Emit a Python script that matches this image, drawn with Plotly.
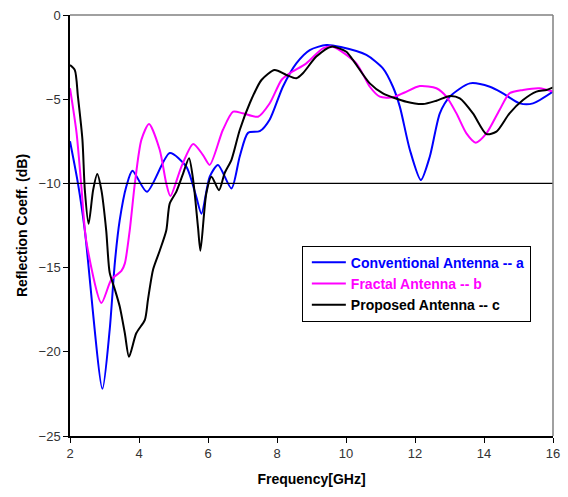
import plotly.graph_objects as go

# Conventional Antenna -- a
f_a = [2.0, 2.23, 2.43, 2.94, 3.15, 3.3, 3.44, 3.63, 3.81, 4.23, 4.89, 5.37, 5.66, 5.81,
       6.05, 6.29, 6.68, 6.92, 7.16, 7.5, 7.79, 8.17, 8.56, 8.95, 9.43, 9.85, 10.59, 11.07,
       11.36, 11.56, 11.85, 12.17, 12.43, 12.72, 13.01, 13.59, 14.17, 14.55, 15.04, 15.42, 16.0]
s_a = [-7.5, -10.0, -12.8, -22.2, -18.7, -14.7, -12.2, -10.2, -9.25, -10.5, -8.2, -9.0, -10.8, -11.8,
       -9.6, -8.9, -10.3, -8.4, -7.0, -6.9, -6.2, -4.26, -2.87, -2.08, -1.78, -1.9, -2.37, -3.17,
       -4.26, -5.44, -8.0, -9.8, -8.4, -5.84, -4.85, -4.06, -4.26, -4.65, -5.25, -5.25, -4.55]

# Fractal Antenna -- b
f_b = [2.0, 2.19, 2.33, 2.47, 2.91, 3.2, 3.49, 3.59, 3.73, 3.88, 4.07, 4.29, 4.6, 4.79, 4.91,
       5.23, 5.57, 5.85, 6.05, 6.43, 6.73, 7.01, 7.45, 7.79, 8.13, 8.37, 8.85, 9.33, 9.62,
       10.3, 10.69, 10.98, 11.36, 11.7, 12.14, 12.62, 12.91, 13.2, 13.49, 13.76, 14.07, 14.45,
       14.74, 15.13, 15.61, 16.0]
s_b = [-4.35, -7.0, -10.2, -13.4, -17.1, -15.7, -15.2, -14.75, -12.8, -10.0, -7.4, -6.47, -8.0, -10.0, -10.75,
       -9.0, -7.66, -8.3, -8.9, -6.83, -5.74, -5.84, -6.04, -5.24, -3.86, -3.46, -2.87, -1.98, -1.88,
       -2.87, -4.26, -4.85, -4.89, -4.6, -4.22, -4.35, -4.85, -5.84, -7.03, -7.58, -7.03, -5.64,
       -4.65, -4.45, -4.35, -4.55]

# Proposed Antenna -- c
f_c = [2.0, 2.14, 2.23, 2.36, 2.43, 2.54, 2.67, 2.79, 2.91, 3.05, 3.15, 3.3, 3.44, 3.59, 3.71,
       3.92, 4.17, 4.26, 4.41, 4.6, 4.79, 4.89, 5.08, 5.28, 5.45, 5.57, 5.71, 5.78, 5.95, 6.1,
       6.32, 6.48, 6.68, 6.92, 7.21, 7.55, 7.93, 8.27, 8.56, 8.75, 9.14, 9.58, 10.01, 10.2,
       10.69, 11.07, 11.75, 12.23, 12.62, 13.01, 13.3, 13.68, 14.07, 14.36, 14.74, 15.13,
       15.52, 15.81, 16.0]
s_c = [-2.97, -3.27, -4.85, -7.4, -10.4, -12.4, -10.4, -9.44, -10.4, -12.8, -15.3, -16.3, -17.3, -18.9, -20.3,
       -18.9, -18.1, -16.9, -15.1, -14.0, -12.8, -11.2, -10.5, -9.4, -8.5, -9.8, -12.6, -14.0, -10.6, -9.6,
       -10.4, -9.4, -8.6, -6.83, -5.24, -3.86, -3.27, -3.56, -3.76, -3.46, -2.47, -1.88, -2.18, -2.67,
       -4.06, -4.65, -5.15, -5.29, -5.09, -4.81, -4.95, -5.84, -7.07, -6.93, -5.84, -5.05,
       -4.55, -4.45, -4.3]

x_ticks = [2, 4, 6, 8, 10, 12, 14, 16]
y_ticks = [0, -5, -10, -15, -20, -25]
threshold = -10

names = ["Conventional Antenna -- a", "Fractal Antenna -- b", "Proposed Antenna -- c"]
colors = ["#0000FF", "#FF00FF", "#000000"]

fig = go.Figure()
for fx, sy, nm, col in zip([f_a, f_b, f_c], [s_a, s_b, s_c], names, colors):
    fig.add_trace(go.Scatter(
        x=fx, y=sy, mode="lines",
        name=f"<span style='color:{col}'><b>{nm}</b></span>",
        line=dict(color=col, width=2, shape="spline", smoothing=0.7),
    ))

fig.add_hline(y=threshold, line=dict(color="black", width=1.2))
# gray frame on top and right
fig.add_shape(type="line", xref="paper", yref="paper", x0=0, x1=1, y0=1, y1=1,
              line=dict(color="#808080", width=1.5))
fig.add_shape(type="line", xref="paper", yref="paper", x0=1, x1=1, y0=0, y1=1,
              line=dict(color="#808080", width=1.5))

fig.update_layout(
    width=568, height=497,
    margin=dict(l=70, r=15, t=15, b=61),
    paper_bgcolor="white", plot_bgcolor="white",
    font=dict(family="Liberation Sans, Arial, sans-serif", size=13, color="#333"),
    showlegend=True,
    legend=dict(
        x=0.48, y=0.452, xanchor="left", yanchor="top",
        bgcolor="white", bordercolor="black", borderwidth=1,
        font=dict(family="Liberation Sans, Arial, sans-serif", size=14),
        tracegroupgap=0, indentation=4, itemwidth=34,
    ),
    xaxis=dict(
        range=[2, 16], tickvals=x_ticks, showgrid=False, zeroline=False,
        showline=True, linecolor="black", linewidth=1.5, automargin=False,
        ticks="outside", ticklen=5, tickcolor="black",
        title=dict(text="<b>Frequency[GHz]</b>", font=dict(size=14, color="black"), standoff=14),
    ),
    yaxis=dict(
        range=[-25, 0], tickvals=y_ticks, showgrid=False, zeroline=False,
        showline=True, linecolor="black", linewidth=1.5, automargin=False,
        ticks="outside", ticklen=5, tickcolor="black",
        title=dict(text="<b>Reflection Coeff. (dB)</b>", font=dict(size=14, color="black"), standoff=8),
    ),
)

fig.write_html("out.html")
